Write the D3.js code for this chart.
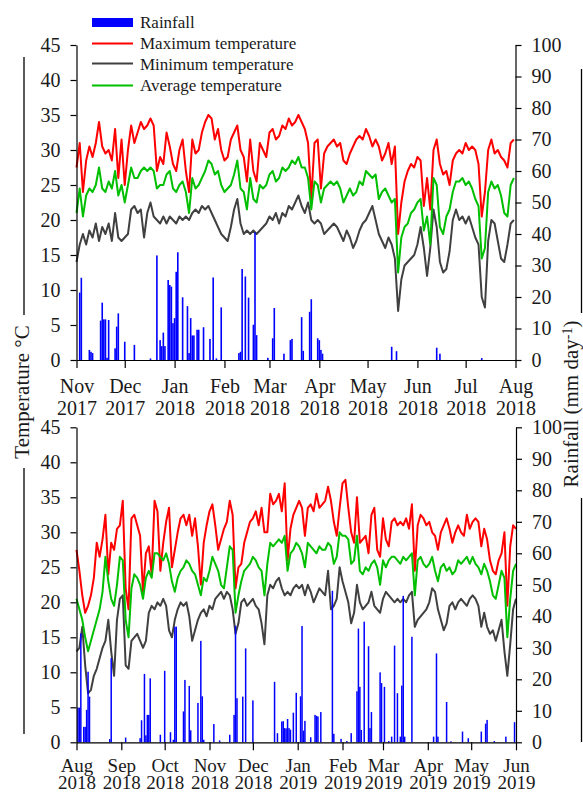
<!DOCTYPE html>
<html>
<head>
<meta charset="utf-8">
<script src="https://cdn.jsdelivr.net/npm/d3@7"></script>
<style>
  html, body { margin: 0; padding: 0; background: #fff; }
  svg { display: block; font-family: "Liberation Serif", "Times New Roman", serif; }
</style>
</head>
<body>
<svg id="chart" width="583" height="794"></svg>
<script>
// Daily weather for two seasons; temperatures sampled every STEP_DAYS days (°C),
// rainfall given as day offset from season start and amount (mm day-1).
const STEP_DAYS = 2;

const season1Start = "2017-11-01";
const season1End = "2018-08-01";
const season1Tmax = [
  27.5, 31.0, 24.0, 28.5, 30.5, 29.0, 31.0, 34.0, 30.5, 29.5,
  30.0, 28.5, 33.0, 26.0, 31.5, 25.0, 30.0, 33.5, 31.0, 32.5,
  34.0, 33.0, 33.5, 34.5, 33.5, 27.0, 29.0, 28.0, 32.5, 30.5,
  28.0, 27.0, 30.0, 31.5, 27.0, 24.0, 31.5, 29.5, 30.0, 32.5,
  34.0, 35.0, 34.5, 31.5, 33.0, 30.0, 28.5, 29.0, 31.5, 32.5,
  33.5, 30.0, 29.0, 25.5, 31.5, 27.0, 25.5, 31.0, 30.0, 29.0,
  32.5, 33.0, 31.5, 32.0, 33.5, 33.0, 34.5, 33.5, 34.0,
  35.0, 34.0, 33.0, 31.0, 23.0, 31.0, 31.5, 24.5, 29.5, 30.5,
  31.0, 31.5, 30.5, 31.0, 28.5, 28.0, 29.5, 30.5, 31.5, 32.0,
  31.5, 33.0, 32.0, 30.5, 31.5, 30.5, 28.5, 29.5, 31.0, 28.0,
  30.5, 18.0, 22.5, 25.5, 27.0, 28.0, 27.5, 29.0, 28.5, 22.0,
  26.0, 21.5, 30.0, 31.5, 28.0, 26.5, 27.0, 25.0, 28.5, 29.5,
  30.0, 29.5, 31.0, 30.0, 30.5, 30.0, 28.0, 20.5, 24.0, 30.0,
  31.5, 29.5, 30.0, 29.0, 28.5, 27.5, 31.0, 31.5
];
const season1Tmin = [
  14.0, 16.5, 18.0, 16.5, 18.5, 17.5, 19.5, 17.0, 19.0, 18.0,
  19.5, 17.0, 21.0, 17.5, 17.0, 17.5, 18.0, 21.5, 22.0, 21.0,
  21.5, 17.5, 21.0, 22.5, 20.5, 20.0, 19.5, 20.5, 19.5, 20.5,
  20.0, 19.5, 20.5, 20.0, 20.5, 20.0, 21.0, 21.5, 21.0, 22.0,
  21.5, 22.0, 21.0, 20.0, 19.0, 18.0, 17.5, 17.0, 19.0, 21.5,
  23.0, 19.5, 18.0, 18.5, 18.0, 18.5, 18.0, 18.5, 19.0, 19.5,
  20.5, 20.0, 21.0, 19.5, 21.0, 20.5, 22.0, 21.5, 22.5,
  23.5, 22.0, 21.0, 22.5, 20.0, 19.5, 20.0, 19.5, 18.0, 18.5,
  19.0, 19.5, 19.0, 18.0, 17.0, 18.5, 17.5, 16.0, 17.0, 18.5,
  19.5, 20.0, 21.0, 22.0, 20.0, 18.0, 17.0, 16.0, 17.5, 16.5,
  14.5, 7.0, 11.5, 13.5, 14.0, 14.5, 15.0, 16.5, 19.0, 16.0,
  12.0, 16.0, 21.5, 19.0, 14.0, 12.5, 13.0, 15.5, 20.0, 21.5,
  20.0, 20.5, 19.5, 20.5, 19.0, 17.5, 16.5, 9.0, 7.5, 17.0,
  20.0, 19.5, 17.0, 14.5, 14.0, 16.5, 19.5, 20.0
];
const season1Tavg = [
  21.0, 24.5, 20.5, 23.5, 24.5, 24.0, 25.0, 27.5, 24.5, 24.0,
  25.5, 24.5, 27.0, 23.5, 25.0, 22.5, 25.0, 27.5, 26.0, 26.0,
  27.0, 27.5, 27.0, 27.5, 27.0, 24.5, 25.0, 25.0, 26.5, 27.0,
  24.5, 24.0, 25.0, 25.5, 24.0, 21.0, 26.0, 24.5, 25.0, 26.0,
  27.0, 28.5, 28.0, 26.5, 27.0, 25.0, 24.0, 24.5, 25.0, 26.5,
  28.5, 24.5, 24.0, 21.5, 26.0, 23.0, 22.5, 25.0, 24.5, 25.0,
  26.5, 27.0, 25.5, 26.0, 27.5, 27.0, 27.5, 28.5, 28.0,
  29.0, 27.5, 27.5, 26.0, 21.5, 25.5, 25.0, 22.5, 24.5, 25.0,
  25.5, 25.0, 25.5, 24.5, 22.5, 23.5, 24.5, 23.5, 24.0, 25.5,
  25.0, 27.0, 26.5, 26.0, 26.5, 23.0, 24.0, 24.5, 23.5, 22.5,
  23.0, 12.5, 17.5, 19.0, 19.5, 21.0, 21.5, 22.5, 23.0, 18.5,
  20.5, 16.5, 26.0, 25.0, 19.0, 18.0, 20.5, 21.5, 24.0, 25.5,
  25.5, 26.0, 25.0, 25.5, 24.5, 23.0, 22.0, 14.5, 16.0, 24.0,
  25.5, 24.5, 25.0, 23.5, 21.0, 20.5, 25.0, 26.0
];
const season1RainDay = [
  2, 3, 8, 9, 10, 15, 16, 17, 18, 19, 20, 24, 25, 26, 30, 36, 46, 50, 52, 53,
  54, 55, 57, 58, 59, 60, 61, 62, 63, 66, 69, 70, 71, 72, 73, 75, 76, 79, 83, 85,
  87, 90, 101, 102, 103, 105, 107, 110, 111, 112, 119, 122, 123, 129, 133, 134, 140, 141, 145, 146,
  150, 151, 152, 153, 196, 199, 224, 226, 252
];
const season1RainMm = [
  21.4, 26.1, 3.2, 2.6, 2.2, 12.5, 18.2, 12.9, 12.9, 0.7, 12.7, 3.7, 10.6, 14.8, 5.8, 4.8, 0.5, 33.2, 6.3, 4.4,
  8.7, 4.4, 25.4, 23.8, 23.3, 11.7, 13.3, 28.0, 34.2, 19.9, 17.1, 2.2, 13.3, 7.8, 7.8, 9.6, 9.6, 10.4, 6.7, 26.2,
  0.5, 16.7, 2.2, 2.6, 28.9, 26.5, 19.8, 11.2, 40.5, 7.9, 0.7, 6.9, 16.5, 2.0, 6.3, 6.7, 13.6, 2.9, 15.3, 19.3,
  6.9, 6.3, 3.2, 2.0, 4.2, 2.8, 3.9, 2.0, 0.6
];

const season2Start = "2018-08-01";
const season2End = "2019-06-01";
const season2Tmax = [
  27.5, 24.5, 21.0, 18.5, 19.5, 21.0, 23.5, 28.5, 26.5, 29.0,
  32.5, 24.0, 28.5, 27.5, 30.5, 31.0, 34.5, 22.0, 19.0, 32.0,
  32.5, 31.0, 29.5, 21.5, 27.0, 28.0, 24.0, 34.5, 33.0, 24.5,
  28.5, 31.5, 33.5, 25.0, 27.5, 30.0, 32.0, 32.5, 31.0, 32.5,
  29.5, 32.0, 28.0, 22.5, 28.5, 31.0, 33.0, 34.0, 31.0, 27.5,
  29.0, 30.5, 31.5, 34.5, 32.5, 22.0, 25.0, 25.5, 28.5, 30.0,
  31.5, 32.0, 33.0, 31.0, 33.5, 30.0, 30.0, 35.5, 34.0, 34.5,
  35.5, 33.0, 37.0, 26.0, 30.5, 32.5, 33.5,
  34.5, 33.5, 29.5, 33.5, 34.0, 33.0, 35.5, 33.5, 34.0, 34.5,
  36.5, 34.5, 31.5, 29.5, 33.5, 37.0, 37.5, 33.5, 30.0, 28.5,
  35.0, 28.5, 29.0, 29.5, 27.0, 32.5, 33.5, 27.5, 26.5, 32.0,
  29.0, 28.0, 31.5, 32.0, 31.0, 31.5, 31.0, 32.0, 30.5, 34.0,
  24.5, 31.0, 32.5, 32.0, 31.0, 31.5, 30.0, 29.5, 27.5, 30.0,
  31.0, 32.0, 30.5, 28.5, 30.0, 31.0, 30.0, 29.5, 32.5, 30.5,
  31.5, 32.0, 31.5, 28.0, 30.5, 29.0, 26.0, 24.5, 24.0, 26.0,
  27.0, 30.0, 19.5, 28.0, 31.0, 30.5
];
const season2Tmin = [
  13.0, 13.5, 16.5, 11.0, 7.0, 7.5, 9.5, 10.5, 12.0, 13.5,
  14.5, 17.5, 13.0, 9.5, 17.5, 20.5, 21.0, 11.0, 10.5, 14.5,
  15.0, 15.5, 14.5, 13.5, 14.5, 18.5, 19.5, 19.0, 20.0, 19.5,
  20.5, 19.5, 16.0, 15.0, 17.5, 19.0, 20.0, 19.5, 20.0, 18.0,
  14.5, 16.0, 17.5, 18.5, 19.0, 18.0, 19.5, 19.0, 20.5, 21.0,
  21.5, 20.5, 21.5, 21.0, 19.0, 15.5, 17.0, 20.0, 20.5, 19.5,
  20.0, 20.5, 19.5, 19.0, 17.0, 14.0, 21.0, 22.5, 22.0, 23.0,
  23.5, 22.0, 21.0, 21.5, 21.0, 22.0, 22.5,
  22.0, 22.5, 21.0, 22.5, 21.5, 20.0, 21.0, 22.0, 21.5, 21.0,
  24.5, 19.0, 19.5, 20.5, 25.0, 23.0, 21.5, 20.0, 17.0, 18.5,
  22.5, 20.0, 19.0, 19.5, 20.0, 21.5, 19.5, 19.0, 18.5, 20.5,
  21.5, 21.0, 20.5, 20.0, 20.5, 20.0, 20.5, 20.0, 21.0, 21.5,
  16.5, 17.5, 18.0, 18.5, 19.0, 20.0, 22.0, 21.5, 19.0, 17.5,
  16.0, 17.0, 19.5, 20.0, 19.0, 20.0, 20.5, 20.0, 19.5, 20.5,
  21.0, 20.5, 19.5, 16.5, 18.5, 16.5, 15.5, 16.0, 14.5, 16.0,
  17.5, 13.0, 9.5, 14.0, 19.0, 20.5
];
const season2Tavg = [
  20.5, 19.0, 17.5, 15.0, 13.0, 14.5, 16.0, 17.5, 19.0, 21.5,
  26.5, 23.0, 20.5, 19.5, 22.5, 26.5, 26.0, 17.5, 15.0, 22.0,
  24.0, 23.5, 22.5, 20.5, 23.5, 24.5, 23.5, 27.0, 27.0, 26.5,
  26.0, 27.0, 25.5, 23.0, 21.5, 23.5, 24.5, 25.0, 26.0, 25.5,
  24.5, 24.0, 22.5, 21.0, 23.5, 23.0, 24.5, 26.5, 25.5, 24.5,
  22.5, 22.0, 25.0, 28.0, 27.5, 18.5, 21.0, 23.0, 24.5, 25.0,
  25.5, 26.5, 26.0, 25.0, 24.5, 21.0, 25.5, 28.5, 28.0, 28.5,
  29.0, 28.5, 29.5, 24.5, 27.0, 27.5, 28.5,
  28.0, 27.0, 25.0, 28.5, 28.0, 27.5, 27.0, 28.0, 27.5, 27.5,
  28.5, 28.0, 25.5, 26.5, 30.0, 29.5, 29.5, 29.0, 25.5, 26.0,
  29.5, 24.5, 24.0, 25.0, 24.5, 25.5, 26.0, 25.0, 22.5, 26.0,
  25.0, 26.0, 26.5, 26.5, 26.0, 25.5, 26.5, 26.0, 26.5, 27.0,
  21.0, 26.0, 26.5, 25.5, 25.0, 25.5, 26.5, 24.5, 23.0, 25.0,
  25.5, 24.5, 25.0, 24.0, 24.5, 26.0, 25.5, 26.0, 26.5, 25.5,
  26.5, 25.5, 25.0, 24.0, 25.5, 24.5, 23.0, 21.0, 20.5, 22.5,
  24.5, 23.5, 15.0, 20.5, 24.5, 25.5
];
const season2RainDay = [
  1, 2, 3, 5, 6, 7, 8, 9, 23, 24, 34, 44, 45, 47, 48, 49, 50, 51, 58, 61,
  65, 67, 68, 69, 74, 75, 78, 79, 84, 86, 87, 88, 95, 99, 106, 109, 110, 111, 115, 117,
  122, 137, 139, 142, 143, 144, 145, 146, 147, 148, 150, 152, 155, 156, 157, 158, 162, 165, 166, 167,
  169, 177, 178, 183, 187, 190, 194, 195, 196, 197, 199, 202, 203, 204, 210, 211, 213, 216, 218, 220,
  222, 224, 225, 226, 227, 232, 247, 249, 250, 256, 259, 267, 271, 280, 283, 284, 289, 297, 303
];
const season2RainMm = [
  11.0, 11.0, 34.6, 4.9, 4.9, 10.3, 22.4, 14.5, 1.0, 26.7, 1.5, 1.3, 7.0, 21.7, 2.2, 8.7, 8.7, 20.3, 2.4, 22.7,
  3.2, 0.8, 36.7, 36.7, 9.8, 19.8, 17.9, 3.8, 12.5, 32.2, 14.6, 0.8, 5.8, 0.6, 2.4, 8.7, 37.0, 14.0, 14.5, 29.8,
  13.3, 19.2, 2.9, 6.6, 6.7, 4.5, 4.4, 7.4, 4.5, 4.0, 9.4, 15.7, 14.6, 36.9, 3.7, 6.8, 1.6, 8.7, 8.4, 8.2,
  9.6, 48.1, 2.7, 1.1, 0.4, 2.9, 16.2, 36.1, 17.6, 3.9, 38.3, 30.5, 4.5, 9.6, 22.2, 18.8, 17.6, 0.4, 1.8, 30.7,
  15.6, 1.8, 18.0, 46.5, 1.8, 33.5, 1.8, 28.2, 1.8, 12.8, 0.3, 3.4, 1.3, 3.4, 5.9, 7.1, 0.4, 1.8, 6.4
];

const tempTicks = [0, 5, 10, 15, 20, 25, 30, 35, 40, 45];
const rainTicks = [0, 10, 20, 30, 40, 50, 60, 70, 80, 90, 100];
const legendLabels = ["Rainfall", "Maximum temperature", "Minimum temperature", "Average temperature"];
const colors = { rain: "#0000ff", max: "#ff0000", min: "#404040", avg: "#00bf00" };

const parseDate = d3.timeParse("%Y-%m-%d");
const svg = d3.select("#chart");
const X0 = 76.5;
const TEXT = "#1a1a1a";

function drawPanel(start, end, xRight, baseY, dateLabel, tmax, tmin, tavg, rainDay, rainMm) {
  const t0 = parseDate(start), t1 = parseDate(end);
  const x = d3.scaleTime().domain([t0, t1]).range([X0, xRight]);
  const yT = d3.scaleLinear().domain([0, 45]).range([baseY, baseY - 315]);
  const yR = d3.scaleLinear().domain([0, 100]).range([baseY, baseY - 315]);
  const g = svg.append("g");

  const toPoints = arr => arr.map((v, i) => ({ date: d3.timeDay.offset(t0, i * STEP_DAYS), v }));
  const line = d3.line().x(d => x(d.date)).y(d => yT(d.v));

  [[tmax, colors.max], [tmin, colors.min], [tavg, colors.avg]].forEach(([arr, c]) => {
    g.append("path")
      .datum(toPoints(arr))
      .attr("fill", "none")
      .attr("stroke", c)
      .attr("stroke-width", 2)
      .attr("stroke-linejoin", "round")
      .attr("d", line);
  });

  // daily rainfall bars on the right-hand axis
  const dayW = x(d3.timeDay.offset(t0, 1)) - x(t0);
  const barW = Math.max(1.5, dayW);
  g.append("g").selectAll("rect")
    .data(rainDay.map((d, i) => ({ date: d3.timeDay.offset(t0, d), mm: rainMm[i] })))
    .join("rect")
    .attr("x", d => x(d.date) - barW / 2)
    .attr("y", d => yR(d.mm))
    .attr("width", barW)
    .attr("height", d => yR(0) - yR(d.mm))
    .attr("fill", colors.rain);

  // left temperature axis
  const ax = g.append("g")
    .attr("transform", `translate(${X0},0)`)
    .call(d3.axisLeft(yT).tickValues(tempTicks).tickSize(6).tickSizeOuter(0).tickPadding(10));
  // right rainfall axis
  const ar = g.append("g")
    .attr("transform", `translate(${xRight},0)`)
    .call(d3.axisRight(yR).tickValues(rainTicks).tickSize(6).tickSizeOuter(0).tickPadding(10));
  // month axis
  const months = d3.timeMonth.range(t0, d3.timeDay.offset(t1, 1));
  const ab = g.append("g")
    .attr("transform", `translate(0,${baseY})`)
    .call(d3.axisBottom(x).tickValues(months).tickSize(8).tickSizeOuter(0).tickFormat(""));
  ab.selectAll(".tick text").remove();
  const fmtM = d3.timeFormat("%b"), fmtY = d3.timeFormat("%Y");
  ab.selectAll(".tick").append("text")
    .attr("text-anchor", "middle")
    .attr("fill", TEXT)
    .style("font-size", dateLabel.size + "px")
    .each(function (d) {
      const t = d3.select(this);
      t.append("tspan").attr("x", 0).attr("y", dateLabel.month).text(fmtM(d));
      t.append("tspan").attr("x", 0).attr("y", dateLabel.year).text(fmtY(d));
    });

  [ax, ar, ab].forEach(a => {
    a.attr("font-family", null).attr("font-size", null);
    a.select(".domain").attr("stroke", "#000").attr("stroke-width", 1.2);
    a.selectAll(".tick line").attr("stroke", "#000").attr("stroke-width", 1.2);
  });
  [ax, ar].forEach(a => a.selectAll(".tick text").attr("fill", TEXT).style("font-size", "20px"));
}

drawPanel(season1Start, season1End, 515.5, 360, { size: 20, month: 33, year: 55 },
  season1Tmax, season1Tmin, season1Tavg, season1RainDay, season1RainMm);
drawPanel(season2Start, season2End, 516, 742.3, { size: 19, month: 30, year: 47 },
  season2Tmax, season2Tmin, season2Tavg, season2RainDay, season2RainMm);

// legend
const lg = svg.append("g");
lg.append("rect").attr("x", 92).attr("y", 18).attr("width", 41).attr("height", 9).attr("fill", colors.rain);
[[colors.max, 43.5], [colors.min, 63.5], [colors.avg, 85.5]].forEach(([c, y]) => {
  lg.append("line").attr("x1", 92).attr("x2", 133).attr("y1", y).attr("y2", y)
    .attr("stroke", c).attr("stroke-width", 2);
});
legendLabels.forEach((t, i) => {
  lg.append("text").attr("x", 140).attr("y", [28, 49, 70, 91][i])
    .attr("fill", TEXT).style("font-size", "17px").text(t);
});

// axis titles with bracket rules
svg.append("text")
  .attr("transform", "translate(29,392) rotate(-90)")
  .attr("text-anchor", "middle").attr("fill", TEXT).style("font-size", "21px")
  .text("Temperature °C");
svg.append("line").attr("x1", 24).attr("x2", 24).attr("y1", 57).attr("y2", 315).attr("stroke", "#000").attr("stroke-width", 1.3);
svg.append("line").attr("x1", 24).attr("x2", 24).attr("y1", 468).attr("y2", 734).attr("stroke", "#000").attr("stroke-width", 1.3);

const rt = svg.append("text")
  .attr("transform", "translate(578,404) rotate(-90)")
  .attr("text-anchor", "middle").attr("fill", TEXT).style("font-size", "21px");
rt.append("tspan").text("Rainfall (mm day");
rt.append("tspan").attr("dy", "-0.45em").style("font-size", "14px").text("-1");
rt.append("tspan").attr("dy", "0.3em").text(")");
svg.append("line").attr("x1", 581.5).attr("x2", 581.5).attr("y1", 69).attr("y2", 313).attr("stroke", "#000").attr("stroke-width", 1.3);
svg.append("line").attr("x1", 581.5).attr("x2", 581.5).attr("y1", 498).attr("y2", 742).attr("stroke", "#000").attr("stroke-width", 1.3);
</script>
</body>
</html>
